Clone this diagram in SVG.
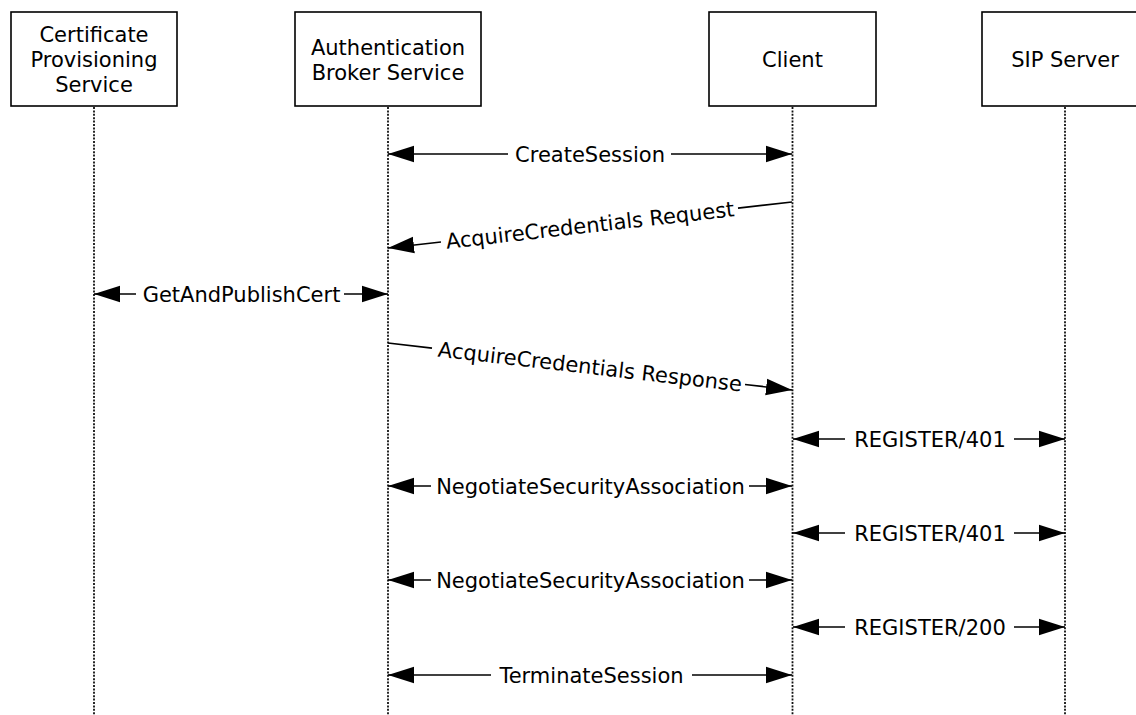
<svg xmlns="http://www.w3.org/2000/svg" width="1136" height="715" viewBox="0 0 1136 715">
<style>
.box{fill:#fff;stroke:#000;stroke-width:1.6}
.life{stroke:#111;stroke-width:1.8;stroke-dasharray:2 1.4;fill:none}
.msg{stroke:#000;stroke-width:1.7;fill:none;marker-end:url(#ah)}
.seg{stroke:#000;stroke-width:1.7;fill:none}
text{font-family:"DejaVu Sans","Verdana",sans-serif;font-size:21px;fill:#000;text-anchor:middle}
</style>
<defs>
<marker id="ah" markerUnits="userSpaceOnUse" markerWidth="26" markerHeight="18" viewBox="0 0 25 16" refX="25" refY="8" orient="auto">
<path d="M0,0 L25,8 L0,16 z" fill="#000"/>
</marker>
</defs>
<rect width="1136" height="715" fill="#fff"/>
<g id="lifelines">
<line class="life" x1="94" y1="107" x2="94" y2="715"/>
<line class="life" x1="388" y1="107" x2="388" y2="715"/>
<line class="life" x1="792.5" y1="107" x2="792.5" y2="715"/>
<line class="life" x1="1065" y1="107" x2="1065" y2="715"/>
</g>
<g id="node-cps">
<rect class="box" x="11" y="12" width="166" height="94"/>
<text x="94" y="42">Certificate</text>
<text x="94" y="67">Provisioning</text>
<text x="94" y="92">Service</text>
</g>
<g id="node-abs">
<rect class="box" x="295" y="12" width="186" height="94"/>
<text x="388" y="55">Authentication</text>
<text x="388" y="80">Broker Service</text>
</g>
<g id="node-client">
<rect class="box" x="709" y="12" width="167" height="94"/>
<text x="792.5" y="67">Client</text>
</g>
<g id="node-sip">
<rect class="box" x="982" y="12" width="166" height="94"/>
<text x="1065" y="67">SIP Server</text>
</g>
<g id="connectors">
<!-- CreateSession -->
<line class="msg" x1="508" y1="154" x2="388" y2="154"/>
<line class="msg" x1="671" y1="154" x2="792" y2="154"/>
<text x="590" y="161.5">CreateSession</text>
<!-- AcquireCredentials Request -->
<line class="seg" x1="792" y1="202" x2="738" y2="208.1"/>
<line class="msg" x1="441" y1="242" x2="388" y2="248"/>
<text transform="translate(590,225) rotate(-6.5)" x="0" y="7.5">AcquireCredentials Request</text>
<!-- GetAndPublishCert -->
<line class="msg" x1="136" y1="294" x2="94" y2="294"/>
<line class="msg" x1="344" y1="294" x2="388" y2="294"/>
<text x="241.5" y="301.5">GetAndPublishCert</text>
<!-- AcquireCredentials Response -->
<line class="seg" x1="388" y1="343" x2="432" y2="348.1"/>
<line class="msg" x1="745" y1="384.5" x2="792" y2="390"/>
<text transform="translate(590,366.5) rotate(6.6)" x="0" y="7.5">AcquireCredentials Response</text>
<!-- REGISTER/401 -->
<line class="msg" x1="845" y1="439" x2="793" y2="439"/>
<line class="msg" x1="1014" y1="439" x2="1065" y2="439"/>
<text x="930" y="446.5">REGISTER/401</text>
<!-- NegotiateSecurityAssociation -->
<line class="msg" x1="431" y1="486" x2="388" y2="486"/>
<line class="msg" x1="749" y1="486" x2="792" y2="486"/>
<text x="590.5" y="493.5">NegotiateSecurityAssociation</text>
<!-- REGISTER/401 -->
<line class="msg" x1="845" y1="533" x2="793" y2="533"/>
<line class="msg" x1="1014" y1="533" x2="1065" y2="533"/>
<text x="930" y="540.5">REGISTER/401</text>
<!-- NegotiateSecurityAssociation -->
<line class="msg" x1="431" y1="580" x2="388" y2="580"/>
<line class="msg" x1="749" y1="580" x2="792" y2="580"/>
<text x="590.5" y="587.5">NegotiateSecurityAssociation</text>
<!-- REGISTER/200 -->
<line class="msg" x1="845" y1="627" x2="793" y2="627"/>
<line class="msg" x1="1014" y1="627" x2="1065" y2="627"/>
<text x="930" y="634.5">REGISTER/200</text>
<!-- TerminateSession -->
<line class="msg" x1="491" y1="675" x2="388" y2="675"/>
<line class="msg" x1="692" y1="675" x2="792" y2="675"/>
<text x="591.5" y="682.5">TerminateSession</text>
</g>
</svg>
